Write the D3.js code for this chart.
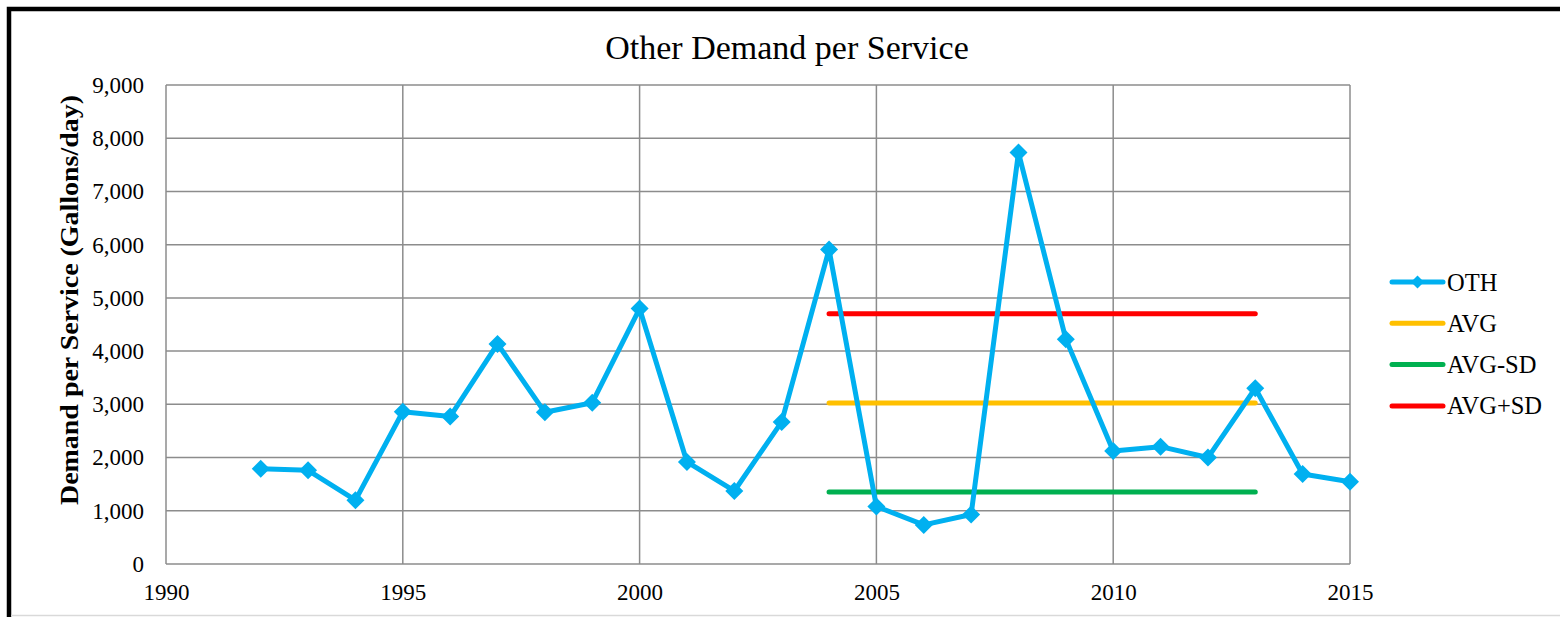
<!DOCTYPE html>
<html><head><meta charset="utf-8">
<script src="https://cdn.jsdelivr.net/npm/d3@7"></script>
<style>body{margin:0;background:#fff;} text{font-family:"Liberation Serif","Times New Roman",serif;}</style>
</head><body>
<svg id="c" width="1560" height="617"></svg>
<script>
const years = [1992,1993,1994,1995,1996,1997,1998,1999,2000,2001,2002,2003,2004,2005,2006,2007,2008,2009,2010,2011,2012,2013,2014,2015];
const oth = [1790,1760,1200,2860,2770,4135,2850,3030,4800,1917,1372,2670,5910,1080,735,930,7730,4225,2124,2205,2000,3302,1690,1547];
const refYears = [2004,2013];
const avg = 3026;
const avgMinusSD = 1355;
const avgPlusSD = 4700;
const xTicks = [1990,1995,2000,2005,2010,2015];
const yTicks = [0,1000,2000,3000,4000,5000,6000,7000,8000,9000];
const legendNames = ["OTH","AVG","AVG-SD","AVG+SD"];
const colors = {OTH:"#00B0F0",AVG:"#FFC000","AVG-SD":"#00B050","AVG+SD":"#FF0000"};

const svg = d3.select("#c");
const L=166,R=1350,T=85,B=564;
const x = d3.scaleLinear().domain([1990,2015]).range([L,R]);
const y = d3.scaleLinear().domain([0,9000]).range([B,T]);

// outer frame
svg.append("rect").attr("x",9).attr("y",9).attr("width",1700).attr("height",800)
  .attr("fill","none").attr("stroke","#000").attr("stroke-width",4.5);
svg.append("line").attr("x1",11).attr("x2",1560).attr("y1",615.5).attr("y2",615.5)
  .attr("stroke","#d9d9d9").attr("stroke-width",1.5);

// grid
const g = svg.append("g");
g.selectAll(".hg").data(yTicks).join("line")
  .attr("x1",L).attr("x2",R).attr("y1",d=>y(d)).attr("y2",d=>y(d))
  .attr("stroke","#8c8c8c").attr("stroke-width",1.5);
g.selectAll(".vg").data(xTicks).join("line")
  .attr("x1",d=>x(d)).attr("x2",d=>x(d)).attr("y1",T).attr("y2",B)
  .attr("stroke","#8c8c8c").attr("stroke-width",1.5);

// axes labels
const fmt = d3.format(",");
const yAxis = d3.axisLeft(y).tickValues(yTicks).tickFormat(fmt).tickSize(0).tickPadding(22);
const ya = svg.append("g").attr("transform",`translate(${L},0)`).call(yAxis);
ya.select(".domain").remove();
ya.attr("font-family","Liberation Serif");
ya.selectAll("text").attr("font-size",23).attr("fill","#000");
const xAxis = d3.axisBottom(x).tickValues(xTicks).tickFormat(d3.format("d")).tickSize(0).tickPadding(20);
const xa = svg.append("g").attr("transform",`translate(0,${B})`).call(xAxis);
xa.select(".domain").remove();
xa.attr("font-family","Liberation Serif");
xa.selectAll("text").attr("font-size",23).attr("fill","#000");

// title
svg.append("text").attr("x",787).attr("y",59).attr("text-anchor","middle")
  .attr("font-size",34).text("Other Demand per Service");
// y label
svg.append("text").attr("transform",`translate(78,300) rotate(-90)`).attr("text-anchor","middle")
  .attr("font-size",25).attr("font-weight","bold")
  .attr("textLength",410).attr("lengthAdjust","spacingAndGlyphs")
  .text("Demand per Service (Gallons/day)");

// reference lines
const refs = [["AVG+SD",avgPlusSD],["AVG",avg],["AVG-SD",avgMinusSD]];
refs.forEach(([n,v])=>{
  svg.append("line").attr("x1",x(refYears[0])).attr("x2",x(refYears[1]))
    .attr("y1",y(v)).attr("y2",y(v)).attr("stroke",colors[n]).attr("stroke-width",5).attr("stroke-linecap","round");
});

// OTH line
const data = years.map((yr,i)=>({yr,v:oth[i]}));
svg.append("path").datum(data)
  .attr("d",d3.line().x(d=>x(d.yr)).y(d=>y(d.v)))
  .attr("fill","none").attr("stroke",colors.OTH).attr("stroke-width",5).attr("stroke-linejoin","round");
const diamond = s=>`M0,${-s}L${s},0L0,${s}L${-s},0Z`;
svg.selectAll(".m").data(data).join("path")
  .attr("d",diamond(9)).attr("transform",d=>`translate(${x(d.yr)},${y(d.v)})`)
  .attr("fill",colors.OTH);

// legend
const lg = svg.append("g");
legendNames.forEach((n,i)=>{
  const yy = 282 + i*41.3;
  lg.append("line").attr("x1",1392).attr("x2",1443).attr("y1",yy).attr("y2",yy)
    .attr("stroke",colors[n]).attr("stroke-width",5).attr("stroke-linecap","round");
  if(n==="OTH") lg.append("path").attr("d",diamond(6.5)).attr("transform",`translate(1417.5,${yy})`).attr("fill",colors[n]);
  lg.append("text").attr("x",1447).attr("y",yy+8.5).attr("font-size",24.5).text(n);
});
</script>
</body></html>
